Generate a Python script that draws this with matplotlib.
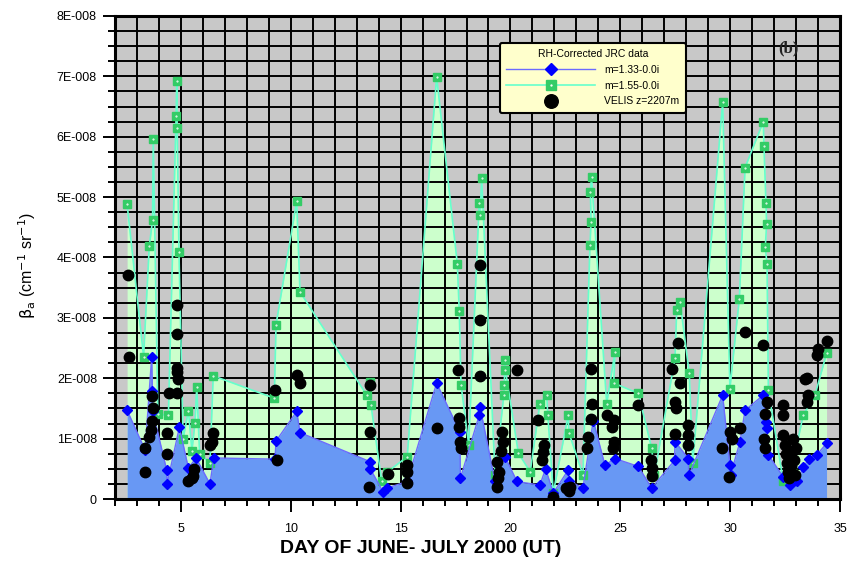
import matplotlib
matplotlib.use("Agg")
import matplotlib.pyplot as plt
from matplotlib.legend_handler import HandlerTuple
from matplotlib.ticker import MultipleLocator

# backscatter values are kept in units of 1E-8 cm^-1 sr^-1
SCALE = 1e-8

# m = 1.55 - 0.0i (RH corrected JRC)
green_day = [2.55, 3.30, 3.56, 3.71, 3.74, 3.95, 4.43, 4.78, 4.81, 4.83, 4.91,
             5.10, 5.34, 5.50, 5.64, 5.72, 5.85, 6.32, 6.47, 9.25, 9.33, 10.27,
             10.42, 13.46, 13.60, 13.65, 14.14, 14.40, 15.30, 16.64, 17.58, 17.67,
             17.75, 18.10, 18.58, 18.62, 18.69, 19.30, 19.70, 19.72, 19.75, 19.77,
             20.36, 20.90, 21.34, 21.65, 21.70, 21.95, 22.63, 22.66, 23.30, 23.62,
             23.67, 23.64, 23.69, 24.38, 24.76, 24.70, 25.82, 26.43, 26.55, 27.49,
             27.57, 27.72, 28.14, 28.30, 29.66, 29.99, 30.42, 30.68, 31.51, 31.54,
             31.63, 31.66, 31.60, 31.68, 31.74, 32.42, 32.80, 33.33, 33.86, 34.39]
green_val = [4.88, 2.36, 4.19, 4.62, 5.97, 1.40, 1.39, 6.34, 6.93, 6.14, 4.09,
             1.00, 1.46, 0.80, 1.26, 1.86, 0.75, 0.60, 2.04, 1.67, 2.89, 4.93,
             3.43, 1.72, 1.94, 1.56, 0.29, 0.45, 0.70, 6.99, 3.90, 3.11,
             1.89, 0.90, 4.91, 4.71, 5.31, 0.40, 1.72, 1.89, 2.30, 2.14,
             0.76, 0.45, 1.58, 1.72, 1.39, 0.10, 1.39, 1.10, 0.40, 4.21,
             4.59, 5.09, 5.33, 1.58, 2.44, 1.92, 1.75, 0.84, 0.40, 2.33,
             3.13, 3.27, 2.08, 0.60, 6.57, 1.83, 3.32, 5.49, 6.25, 5.84,
             4.91, 4.55, 4.17, 3.89, 1.80, 0.29, 0.50, 1.39, 1.72, 2.41]

# m = 1.33 - 0.0i (RH corrected JRC)
blue_day = [2.55, 3.37, 3.67, 3.70, 3.72, 4.35, 4.37, 4.93, 5.34, 5.69, 6.32,
            6.50, 9.28, 9.33, 10.27, 10.42, 13.60, 13.62, 14.20, 14.37, 15.30,
            16.64, 17.70, 17.72, 18.58, 18.61, 19.30, 19.75, 20.30, 21.34, 21.60,
            21.95, 22.63, 22.66, 23.30, 23.77, 24.30, 24.76, 25.82, 26.43, 27.47,
            27.49, 28.10, 28.12, 29.66, 29.99, 30.02, 30.45, 30.68, 31.51, 31.63,
            31.66, 31.74, 32.41, 32.72, 33.05, 33.33, 33.60, 33.94, 34.39]
blue_val = [1.47, 0.81, 2.36, 1.79, 1.45, 0.48, 0.25, 1.19, 0.51, 0.68, 0.25,
            0.68, 0.66, 0.96, 1.45, 1.10, 0.62, 0.50, 0.12, 0.18, 0.29,
            1.92, 1.11, 0.34, 1.39, 1.53, 0.29, 0.70, 0.29, 0.23, 0.50,
            0.10, 0.48, 0.30, 0.18, 1.30, 0.56, 0.67, 0.54, 0.18, 0.64,
            0.95, 0.67, 0.39, 1.72, 0.56, 0.40, 0.95, 1.47, 1.72, 1.28,
            1.17, 0.73, 0.37, 0.23, 0.29, 0.53, 0.67, 0.73, 0.92]

# VELIS lidar, z = 2207 m
velis_day = [2.60, 2.64, 3.37, 3.37, 3.56, 3.65, 3.68, 3.72, 3.70, 4.35, 4.38,
             4.45, 4.80, 4.81, 4.81, 4.80, 4.85, 4.82, 5.34, 5.50, 5.58, 5.55,
             6.32, 6.45, 6.40, 9.28, 9.36, 10.27, 10.40, 13.60, 13.62, 13.55,
             14.44, 15.30, 15.30, 15.30, 16.64, 17.63, 17.65, 17.70, 17.75, 17.68,
             18.61, 18.61, 18.63, 19.60, 19.65, 19.40, 19.40, 19.45, 19.50, 19.55,
             20.28, 21.27, 21.55, 21.50, 21.45, 21.95, 22.55, 22.65, 22.70, 23.67,
             23.70, 23.65, 23.55, 23.50, 24.38, 24.70, 24.68, 24.72, 24.60, 25.82,
             26.43, 26.40, 26.45, 27.64, 27.34, 27.72, 27.49, 27.55, 28.10, 28.10,
             28.08, 27.50, 29.62, 29.99, 29.95, 30.10, 30.45, 30.68, 31.51, 31.66,
             31.60, 31.60, 31.55, 32.41, 32.42, 32.40, 32.50, 32.55, 32.60, 32.65,
             32.70, 32.75, 32.80, 32.85, 32.90, 32.95, 33.00, 33.48, 33.40, 33.50,
             33.55, 33.94, 34.00, 34.39]
velis_val = [3.71, 2.35, 0.84, 0.45, 1.03, 1.15, 1.30, 1.50, 1.70, 1.09, 0.75,
             1.75, 1.75, 3.21, 2.73, 2.10, 1.98, 2.17, 0.29, 0.35, 0.50, 0.38,
             0.89, 1.10, 0.95, 1.80, 0.65, 2.05, 1.92, 1.88, 1.11, 0.20,
             0.42, 0.56, 0.45, 0.27, 1.17, 2.14, 1.34, 0.95, 0.85, 1.20,
             3.87, 2.96, 2.04, 1.11, 0.95, 0.62, 0.20, 0.35, 0.45, 0.80,
             2.14, 1.31, 0.89, 0.78, 0.65, 0.04, 0.18, 0.13, 0.20, 2.16,
             1.58, 1.33, 1.03, 0.84, 1.39, 1.31, 0.84, 0.95, 1.20, 1.56,
             0.51, 0.65, 0.38, 2.58, 2.16, 1.92, 1.61, 1.50, 1.22, 1.06,
             0.90, 1.08, 0.84, 1.11, 0.37, 1.00, 1.17, 2.77, 2.55, 1.61,
             1.41, 0.84, 1.00, 1.39, 1.56, 1.06, 0.90, 0.75, 0.60, 0.45,
             0.35, 0.55, 0.80, 1.00, 0.65, 0.40, 0.85, 2.00, 1.98, 1.61,
             1.72, 2.38, 2.49, 2.62]

ytick_vals = [0, 1, 2, 3, 4, 5, 6, 7, 8]
ytick_labels = ["0", "1E-008", "2E-008", "3E-008", "4E-008",
                "5E-008", "6E-008", "7E-008", "8E-008"]
legend_labels = ["m=1.33-0.0i", "m=1.55-0.0i", "VELIS z=2207m"]

plt.rcParams["font.family"] = ["Liberation Sans", "DejaVu Sans"]

fig = plt.figure(figsize=(8.47, 5.61), dpi=100)
ax = fig.add_axes([0.1358, 0.1105, 0.8559, 0.861])
ax.set_facecolor("#c8c8c8")

g_y = [v * SCALE for v in green_val]
b_y = [v * SCALE for v in blue_val]
k_y = [v * SCALE for v in velis_val]

ax.fill_between(green_day, 0, g_y, color="#ccffcc", lw=0, zorder=1)
ax.fill_between(blue_day, 0, b_y, color="#6898f4", lw=0, zorder=3)

g_line, = ax.plot(green_day, g_y, color="#66ffcc", lw=1.2, marker="s", ms=6,
                  mfc="#33cc66", mec="#33cc66", zorder=4)
g_dot, = ax.plot(green_day, g_y, ls="none", marker=".", ms=1.0,
                 color="white", zorder=4.1)
b_line, = ax.plot(blue_day, b_y, color="#6b6bff", lw=1.0, marker="D", ms=5,
                  mfc="#0000ff", mec="#0000ff", zorder=5)
k_pts, = ax.plot(velis_day, k_y, ls="none", marker="o", ms=7.5,
                 mfc="black", mec="black", zorder=6)

ax.set_xlim(2, 35)
ax.set_ylim(0, 8 * SCALE)
ax.xaxis.set_major_locator(MultipleLocator(5))
ax.xaxis.set_minor_locator(MultipleLocator(1))
ax.set_yticks([v * SCALE for v in ytick_vals])
ax.set_yticklabels(ytick_labels)
ax.yaxis.set_minor_locator(MultipleLocator(0.25 * SCALE))

ax.set_axisbelow(False)
ax.grid(which="both", color="black", lw=1.4, zorder=2.5)

ax.tick_params(which="major", direction="out", length=9, width=1.4,
               labelsize=9, colors="black")
ax.tick_params(axis="x", which="major", pad=8)
ax.tick_params(axis="y", which="major", pad=4)
ax.tick_params(which="minor", direction="out", length=5, width=1.4)
for sp in ax.spines.values():
    sp.set_linewidth(2.2)
    sp.set_zorder(7)

ax.set_xlabel("DAY OF JUNE- JULY 2000 (UT)", fontsize=14, fontweight="bold")
ax.xaxis.set_label_coords(0.422, -0.085)
ax.set_ylabel(r"$\mathrm{\beta_a}$ (cm$^{\mathrm{-1}}$ sr$^{\mathrm{-1}}$)",
              fontsize=11.5)
ax.yaxis.set_label_coords(-0.106, 0.484)

ax.text(0.915, 0.925, "(b)", transform=ax.transAxes, fontsize=12,
        family="Liberation Serif", fontweight="bold", color="#222222",
        zorder=8)

leg = ax.legend([b_line, (g_line, g_dot), k_pts], legend_labels,
                handler_map={tuple: HandlerTuple(ndivide=1)},
                title="RH-Corrected JRC data", loc="upper left",
                bbox_to_anchor=(0.524, 0.955), fontsize=7.5, title_fontsize=7.5,
                handlelength=8.5, handletextpad=0.9, borderpad=0.6,
                labelspacing=0.55, markerscale=1.3,
                facecolor="#ffffcc", edgecolor="black", framealpha=1,
                fancybox=True)
leg.get_frame().set_linewidth(1.5)
leg.set_zorder(9)

fig.savefig("out.png", dpi=100)
